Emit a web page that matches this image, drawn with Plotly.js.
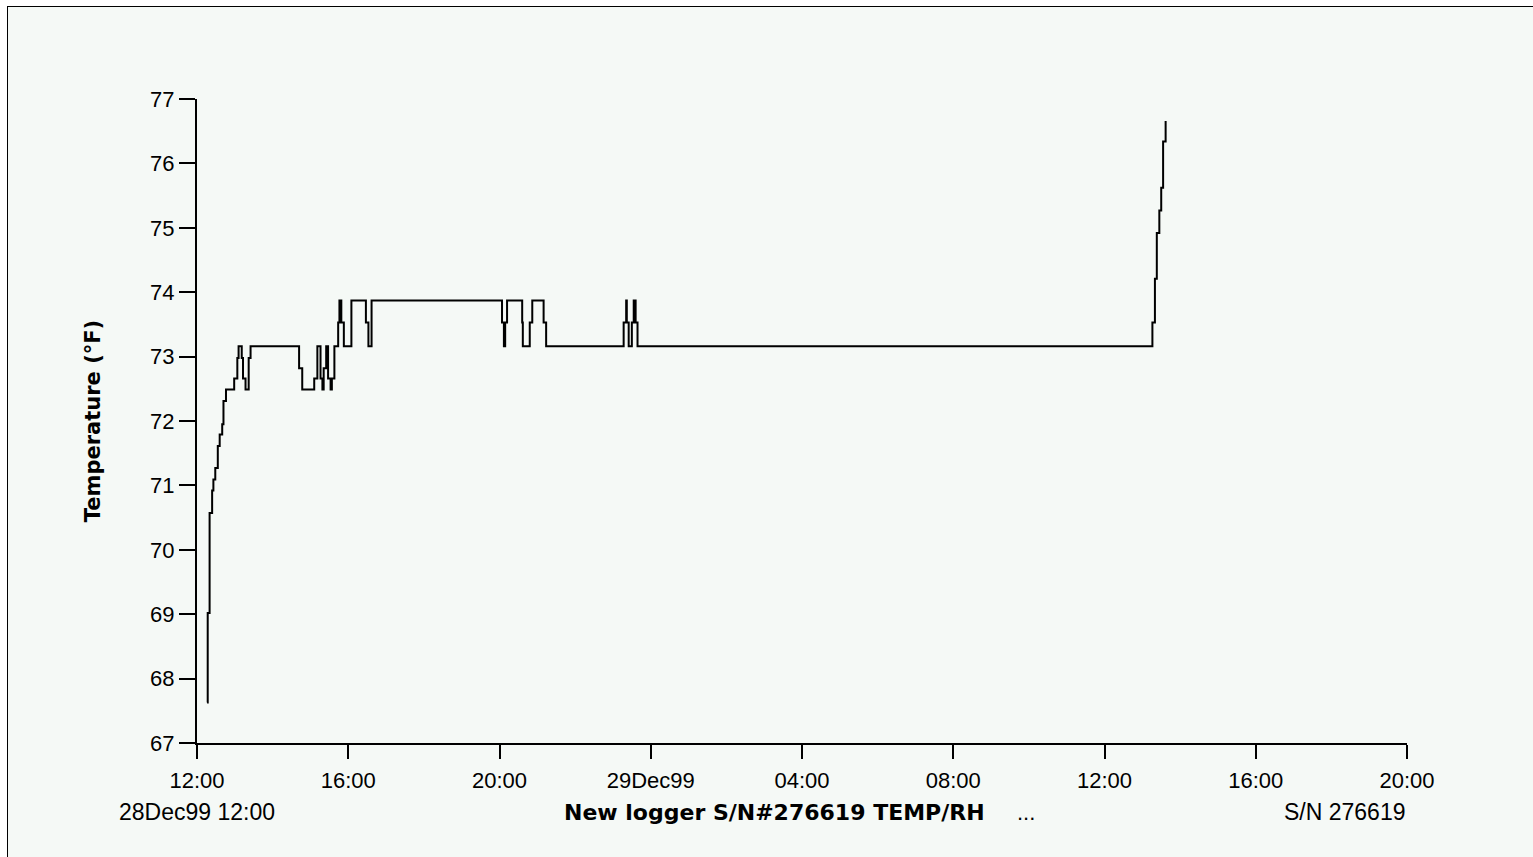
<!DOCTYPE html>
<html>
<head>
<meta charset="utf-8">
<script src="https://cdn.plot.ly/plotly-3.0.1.min.js"></script>
<style>
  html, body { margin: 0; padding: 0; background: #ffffff; width: 1533px; height: 857px; overflow: hidden; }
  #frame { position: absolute; left: 7px; top: 6px; right: 0; bottom: 0;
           border-left: 1px solid #000; border-top: 1px solid #000; background: #f5f9f6; }
  #chart { position: absolute; left: 0; top: 0; width: 1533px; height: 857px; }
</style>
</head>
<body>
<div id="frame"></div>
<div id="chart"></div>
<script>
// Logged readings (time of each change, temperature °F)
const times = [
  "1999-12-28 12:16", "1999-12-28 12:17", "1999-12-28 12:20", "1999-12-28 12:24",
  "1999-12-28 12:26", "1999-12-28 12:29", "1999-12-28 12:33", "1999-12-28 12:36",
  "1999-12-28 12:40", "1999-12-28 12:42", "1999-12-28 12:46", "1999-12-28 12:59",
  "1999-12-28 13:04", "1999-12-28 13:06", "1999-12-28 13:11", "1999-12-28 13:13",
  "1999-12-28 13:17", "1999-12-28 13:22", "1999-12-28 13:25", "1999-12-28 14:42",
  "1999-12-28 14:47", "1999-12-28 15:06", "1999-12-28 15:11", "1999-12-28 15:16",
  "1999-12-28 15:19", "1999-12-28 15:21", "1999-12-28 15:25", "1999-12-28 15:28",
  "1999-12-28 15:32", "1999-12-28 15:34", "1999-12-28 15:38", "1999-12-28 15:44",
  "1999-12-28 15:46", "1999-12-28 15:49", "1999-12-28 15:53", "1999-12-28 16:05",
  "1999-12-28 16:28", "1999-12-28 16:32", "1999-12-28 16:37", "1999-12-28 20:04",
  "1999-12-28 20:07", "1999-12-28 20:09", "1999-12-28 20:12", "1999-12-28 20:36",
  "1999-12-28 20:37", "1999-12-28 20:48", "1999-12-28 20:52", "1999-12-28 21:10",
  "1999-12-28 21:14", "1999-12-28 23:17", "1999-12-28 23:21", "1999-12-28 23:22",
  "1999-12-28 23:25", "1999-12-28 23:30", "1999-12-28 23:33", "1999-12-28 23:36",
  "1999-12-28 23:39", "1999-12-29 13:16", "1999-12-29 13:20", "1999-12-29 13:23",
  "1999-12-29 13:27", "1999-12-29 13:30", "1999-12-29 13:33", "1999-12-29 13:37"
];
const temps = [
  67.63, 69.02, 70.57, 70.92,
  71.09, 71.27, 71.61, 71.79,
  71.95, 72.31, 72.49, 72.66,
  72.98, 73.16, 72.98, 72.66,
  72.49, 72.98, 73.16, 72.82,
  72.49, 72.66, 73.16, 72.66,
  72.49, 72.82, 73.16, 72.66,
  72.49, 72.66, 73.16, 73.53,
  73.87, 73.53, 73.16, 73.87,
  73.53, 73.16, 73.87, 73.53,
  73.16, 73.53, 73.87, 73.53,
  73.16, 73.53, 73.87, 73.53,
  73.16, 73.53, 73.87, 73.53,
  73.16, 73.53, 73.87, 73.53,
  73.16, 73.53, 74.21, 74.92,
  75.27, 75.62, 76.34, 76.66
];

// Axis ticks
const xTickVals = [
  "1999-12-28 12:00", "1999-12-28 16:00", "1999-12-28 20:00", "1999-12-29 00:00",
  "1999-12-29 04:00", "1999-12-29 08:00", "1999-12-29 12:00", "1999-12-29 16:00",
  "1999-12-29 20:00"
];
const xTickText = ["12:00", "16:00", "20:00", "29Dec99", "04:00", "08:00", "12:00", "16:00", "20:00"];
const xRange = ["1999-12-28 12:00", "1999-12-29 20:00"];
const yRange = [67, 77];

// Texts
const yTitle = "Temperature (°F)";
const startLabel = "28Dec99 12:00";
const loggerLabel = "New logger S/N#276619 TEMP/RH";
const moreLabel = "...";
const serialLabel = "S/N 276619";

const FONT = "'Liberation Sans', Arial, sans-serif";
const BOLD_FONT = "'DejaVu Sans', 'Liberation Sans', Arial, sans-serif";

const trace = {
  type: "scatter",
  mode: "lines",
  x: times,
  y: temps,
  line: { color: "#000000", width: 2, shape: "hv" },
  hoverinfo: "skip",
  showlegend: false
};

const layout = {
  width: 1533,
  height: 857,
  margin: { l: 197, r: 126, t: 99, b: 114, pad: 0 },
  paper_bgcolor: "rgba(0,0,0,0)",
  plot_bgcolor: "rgba(0,0,0,0)",
  font: { family: FONT, color: "#000000", size: 22 },
  showlegend: false,
  xaxis: {
    type: "date",
    range: xRange,
    tickmode: "array",
    tickvals: xTickVals,
    ticktext: xTickText,
    showgrid: false,
    zeroline: false,
    showline: true,
    linecolor: "#000000",
    linewidth: 2,
    ticks: "outside",
    ticklen: 14,
    tickwidth: 2,
    tickcolor: "#000000",
    ticklabelstandoff: 3,
    tickfont: { family: FONT, size: 22, color: "#000000" },
    fixedrange: true
  },
  yaxis: {
    range: yRange,
    tickmode: "linear",
    tick0: 67,
    dtick: 1,
    showgrid: false,
    zeroline: false,
    showline: true,
    linecolor: "#000000",
    linewidth: 2,
    ticks: "outside",
    ticklen: 16,
    tickwidth: 2,
    tickcolor: "#000000",
    tickfont: { family: FONT, size: 22, color: "#000000" },
    title: { text: "<b>" + yTitle + "</b>", font: { family: BOLD_FONT, size: 21, color: "#000000" }, standoff: 44 },
    fixedrange: true
  },
  annotations: [
    { xref: "paper", yref: "paper", x: 0, y: 0, xanchor: "center", yanchor: "middle", yshift: -69,
      text: startLabel, showarrow: false, font: { family: FONT, size: 23, color: "#000000" } },
    { xref: "paper", yref: "paper", x: 0.477, y: 0, xanchor: "center", yanchor: "middle", yshift: -69,
      text: "<b>" + loggerLabel + "</b>", showarrow: false, font: { family: BOLD_FONT, size: 22, color: "#000000" } },
    { xref: "paper", yref: "paper", x: 0.685, y: 0, xanchor: "center", yanchor: "middle", yshift: -69,
      text: moreLabel, showarrow: false, font: { family: FONT, size: 22, color: "#000000" } },
    { xref: "paper", yref: "paper", x: 1, y: 0, xanchor: "right", yanchor: "middle", yshift: -69,
      text: serialLabel, showarrow: false, font: { family: FONT, size: 23, color: "#000000" } }
  ]
};

Plotly.newPlot("chart", [trace], layout, { staticPlot: true, displayModeBar: false });
</script>
</body>
</html>
